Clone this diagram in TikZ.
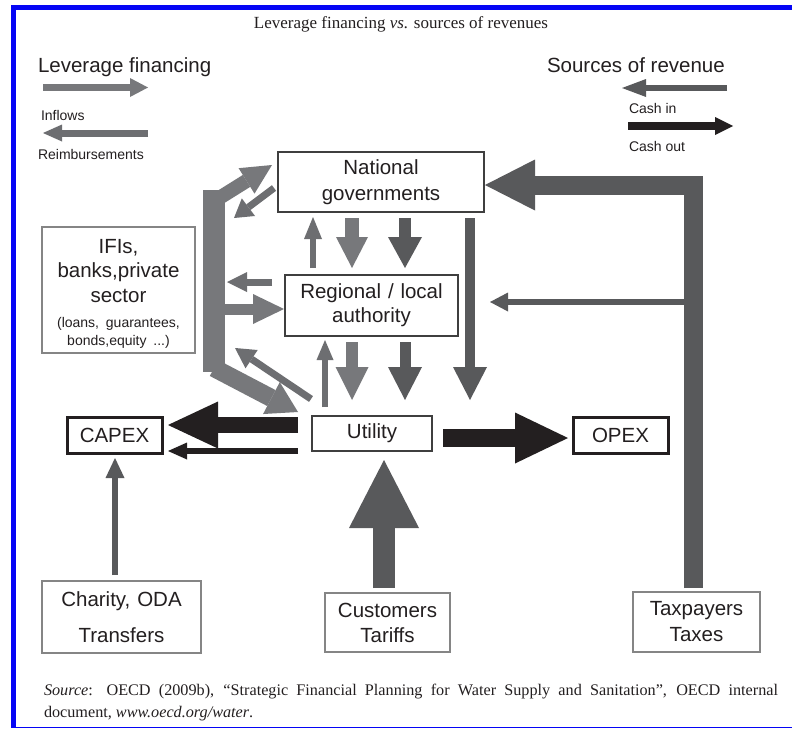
\documentclass[tikz,border=0pt]{standalone}
\usepackage{fontspec}
\setmainfont{Liberation Sans}
\newfontfamily\serifo{Liberation Serif}
\usetikzlibrary{arrows.meta,calc}
\definecolor{cLight}{HTML}{77787B}
\definecolor{cMid}{HTML}{6D6E71}
\definecolor{cDark}{HTML}{58595B}
\definecolor{cBlack}{HTML}{231F20}
\definecolor{cTxt}{HTML}{231F20}
\definecolor{cFrame}{HTML}{0505F5}
\definecolor{bDark}{HTML}{3F3F3F}
\definecolor{bGray}{HTML}{858585}
\begin{document}
\begin{tikzpicture}[x=1pt,y=-1pt,
  every node/.style={text=cTxt, inner sep=0pt, outer sep=0pt},
  box/.style={draw=bDark, line width=1.6pt, align=center},
  gbox/.style={draw=bGray, line width=1.6pt, align=center},
  kbox/.style={draw=cBlack, line width=3pt, align=center},
  bigtxt/.style={font=\fontsize{20.5}{#1}\selectfont},
  bigtxt/.default=25,
  legtxt/.style={font=\fontsize{14}{16}\selectfont},
  blk/.style n args={3}{line width=#1, -{Triangle[length=#2, width=#3, line width=0pt]}},
]
\useasboundingbox (0,0) rectangle (792,728);
\fill[white] (0,0) rectangle (792,728);
% frame
\fill[cFrame] (11,5) rectangle (792,10);
\fill[cFrame] (11,5) rectangle (16,728);
\fill[cFrame] (11,726.5) rectangle (792,728);

% title
\node[font=\serifo\fontsize{17}{20}\selectfont, anchor=base] (title) at (401,28) {Leverage financing \textit{vs.} sources of revenues};

% legends
\node[anchor=base west, bigtxt] (levt) at (38,72.7) {Leverage financing};
\node[anchor=base west, legtxt] (infl) at (41,120.7) {Inflows};
\node[anchor=base west, legtxt] (reim) at (38,159) {Reimbursements};
\node[anchor=base west, bigtxt] (srct) at (547,72.7) {Sources of revenue};
\node[anchor=base west, legtxt] (cin) at (629,113.3) {Cash in};
\node[anchor=base west, legtxt] (cout) at (629,151.7) {Cash out};
\coordinate (l1a) at (43,87.5);   \coordinate (l1b) at (148,87.5);
\coordinate (l2a) at (148,133);   \coordinate (l2b) at (43,133);
\coordinate (l3a) at (727,88);    \coordinate (l3b) at (622,88);
\coordinate (l4a) at (628,126);   \coordinate (l4b) at (733,126);
\draw[cLight, blk={7pt}{18pt}{19pt}] (l1a) -- (l1b);
\draw[cMid, blk={7pt}{19pt}{17pt}] (l2a) -- (l2b);
\draw[cDark, blk={6.5pt}{24pt}{18pt}] (l3a) -- (l3b);
\draw[cBlack, blk={8pt}{18pt}{18pt}] (l4a) -- (l4b);

% nodes
\node[box, bigtxt=26, text width=206pt, minimum height=60pt] (nat) at (381,182) {National\\governments};
\node[box, bigtxt=24, text width=173pt, minimum height=61pt] (reg) at (371.5,305.5) {Regional / local\\authority};
\node[box, bigtxt, text width=120pt, minimum height=35pt] (util) at (372,433.5) {Utility};
\node[kbox, bigtxt, text width=95pt, minimum height=36pt] (capex) at (114.5,435) {CAPEX};
\node[kbox, bigtxt, text width=95pt, minimum height=36pt] (opex) at (620.5,435) {OPEX};
\node[gbox, bigtxt=24.5, text width=153pt, minimum height=126pt] (ifi) at (118.5,290) {\rule{0pt}{22pt}IFIs,\\banks,private\\sector\\[8.5pt]{\fontsize{14}{17}\selectfont (loans, guarantees,\\[-6.5pt]bonds,equity ...)}};
\node[gbox, bigtxt=36, text width=159pt, minimum height=72pt] (charity) at (121.5,617) {Charity, ODA\\Transfers};
\node[gbox, bigtxt=25, text width=125pt, minimum height=59pt] (cust) at (387.5,622.5) {Customers\\Tariffs};
\node[gbox, bigtxt=26, text width=127pt, minimum height=60pt] (tax) at (696.5,622) {Taxpayers\\Taxes};

% left bracket (financing)
\coordinate (bt) at ($(ifi.east)+(19,-100)$);
\coordinate (bb) at ($(ifi.east)+(19,82)$);
\draw[cLight, line width=22pt] (bt) -- (bb);
\draw[cLight, blk={14pt}{30pt}{30pt}] ($(bt)+(2,10)$) -- ($(nat.west)+(-6,-17)$);
\draw[cLight, blk={18pt}{30pt}{36pt}] ($(bb)+(0,-4)$) -- ($(util.west)+(-14,-21.5)$);
\draw[cLight, blk={11pt}{31pt}{30pt}] ($(bt)+(10,119)$) -- ($(reg.west)+(-1,3.5)$);
\draw[cMid, blk={7pt}{20pt}{20pt}] ($(reg.west)+(-13,-23.5)$) -- ($(bt)+(13,92)$);
\draw[cMid, blk={7pt}{18pt}{22pt}] ($(nat.west)+(-4,6)$) -- ($(bt)+(20,28)$);
\draw[cMid, blk={7pt}{20pt}{22pt}] ($(util.west)+(-1,-34.5)$) -- ($(bt)+(21,158)$);

% vertical flows between governments, authority, utility
\draw[cMid, blk={6pt}{22pt}{18pt}] ($(reg.north)+(-58.5,-7)$) -- ($(nat.south)+(-68,5)$);
\draw[cLight, blk={14pt}{31pt}{32pt}] ($(nat.south)+(-29,6)$) -- ($(reg.north)+(-19.5,-7)$);
\draw[cDark, blk={12pt}{31pt}{34pt}] ($(nat.south)+(24,6)$) -- ($(reg.north)+(33.5,-7)$);
\draw[cDark, blk={10pt}{33pt}{34pt}] ($(nat.south)+(89,6)$) -- ($(util.north)+(98,-16)$);
\draw[cMid, blk={6pt}{20pt}{17pt}] ($(util.north)+(-47,-9)$) -- ($(reg.south)+(-46.5,4)$);
\draw[cLight, blk={12pt}{33pt}{33pt}] ($(reg.south)+(-19.5,6)$) -- ($(util.north)+(-20,-16)$);
\draw[cDark, blk={11pt}{33pt}{34pt}] ($(reg.south)+(33.5,6)$) -- ($(util.north)+(33,-16)$);

% taxpayers
\draw[cDark, blk={19pt}{50pt}{51pt}] ($(tax.north)+(-3.5,-4)$) |- ($(nat.east)+(1,3)$);
\draw[cDark, blk={6pt}{18pt}{19pt}] ($(reg.east)+(226,-3.5)$) -- ($(reg.east)+(32,-3.5)$);

% customers
\draw[cDark, blk={22pt}{68pt}{70pt}] ($(cust.north)+(-3.5,-5)$) -- ($(util.south)+(12,9)$);

% capex / opex
\draw[cBlack, blk={18pt}{53pt}{51pt}] ($(util.east)+(11,4.5)$) -- ($(opex.west)+(-5,3)$);
\draw[cBlack, blk={16pt}{50pt}{47pt}] ($(util.west)+(-14,-8.5)$) -- ($(capex.east)+(6,-10)$);
\draw[cBlack, blk={6pt}{19pt}{17pt}] ($(util.west)+(-14,17.5)$) -- ($(capex.east)+(6,16)$);
\draw[cDark, blk={6pt}{20pt}{19pt}] ($(charity.north)+(-6.5,-6)$) -- ($(capex.south)+(0.5,5)$);

% source
\node[font=\serifo\fontsize{16.2}{20}\selectfont, anchor=base west] (src1) at (44,695) {\makebox[734pt][s]{\textit{Source}: OECD (2009b), “Strategic Financial Planning for Water Supply and Sanitation”, OECD internal}};
\node[font=\serifo\fontsize{16.2}{20}\selectfont, anchor=base west] (src2) at (44,717) {document, \textit{www.oecd.org/water}.};
\end{tikzpicture}
\end{document}
